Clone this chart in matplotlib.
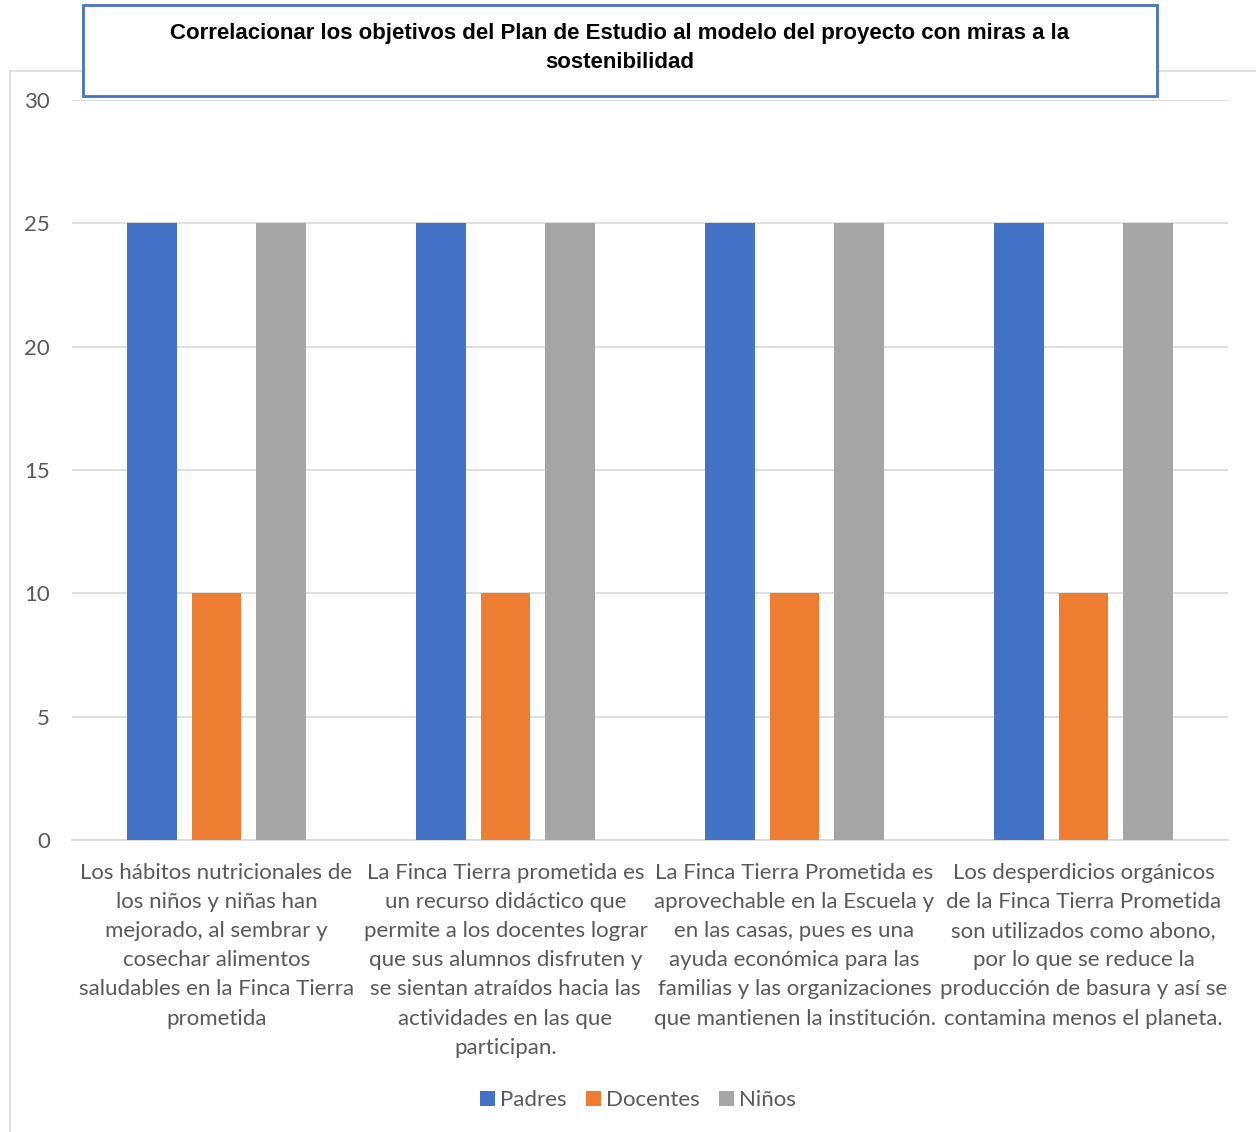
import matplotlib
matplotlib.use("Agg")
import matplotlib.pyplot as plt
from matplotlib.patches import Rectangle
import numpy as np

# data
categories = [
    "Los hábitos nutricionales de\nlos niños y niñas han\nmejorado, al sembrar y\ncosechar alimentos\nsaludables en la Finca Tierra\nprometida",
    "La Finca Tierra prometida es\nun recurso didáctico que\npermite a los docentes lograr\nque sus alumnos disfruten y\nse sientan atraídos hacia las\nactividades en las que\nparticipan.",
    "La Finca Tierra Prometida es\naprovechable en la Escuela y\nen las casas, pues es una\nayuda económica para las\nfamilias y las organizaciones\nque mantienen la institución.",
    "Los desperdicios orgánicos\nde la Finca Tierra Prometida\nson utilizados como abono,\npor lo que se reduce la\nproducción de basura y así se\ncontamina menos el planeta.",
]
padres = [25, 25, 25, 25]
docentes = [10, 10, 10, 10]
ninos = [25, 25, 25, 25]
series_names = ["Padres", "Docentes", "Niños"]
colors = ["#4472C4", "#ED7D31", "#A5A5A5"]
title = "Correlacionar los objetivos del Plan de Estudio al modelo del proyecto con miras a la\nsostenibilidad"

plt.rcParams['font.family'] = ['Lato', 'DejaVu Sans']
W, H = 1256, 1132
fig = plt.figure(figsize=(W / 100, H / 100), dpi=100)

# outer chart border
fig.patches.append(Rectangle((10 / W, 1 - 1140 / H), 1260 / W, (1140 - 71) / H,
                             transform=fig.transFigure, fill=False,
                             edgecolor="#D9D9D9", linewidth=1.2, zorder=0))

ax = fig.add_axes([72 / W, 1 - 840 / H, (1228 - 72) / W, (840 - 100) / H])
x = np.arange(len(categories))
w = 0.173
off = 0.222
for i, (vals, name) in enumerate(zip([padres, docentes, ninos], series_names)):
    ax.bar(x + (i - 1) * off, vals, w, color=colors[i], label=name, zorder=3)

ax.set_xlim(-0.5, len(categories) - 0.5)
ax.set_ylim(0, 30)
ax.set_yticks(range(0, 31, 5))
ax.yaxis.grid(True, color="#D9D9D9", linewidth=1.2, zorder=0)
ax.set_axisbelow(True)
for s in ["top", "right", "left"]:
    ax.spines[s].set_visible(False)
ax.spines["bottom"].set_color("#D9D9D9")
ax.spines["bottom"].set_linewidth(1.2)
ax.tick_params(axis="both", length=0, colors="#595959", labelsize=16)
ax.tick_params(axis="y", pad=16)
ax.set_xticks(x)
ax.set_xticklabels(categories, fontsize=16, color="#595959", linespacing=1.57,
                   va="top", ha="center")
ax.tick_params(axis="x", pad=16.5)

fig.legend(loc="center", bbox_to_anchor=(638 / W, 1 - 1100 / H), ncol=3, frameon=False,
           fontsize=16, handlelength=0.65, handleheight=0.65, handletextpad=0.22,
           columnspacing=0.9, labelcolor="#595959")

# title box
fig.patches.append(Rectangle((83 / W, 1 - 96 / H), (1157 - 83) / W, (96 - 5) / H,
                             transform=fig.transFigure, facecolor="white",
                             edgecolor="#4472C4", linewidth=2, zorder=5))
fig.text(620 / W, 1 - 48 / H, title, ha="center", va="center", fontsize=16,
         fontweight="bold", family=["Liberation Sans Narrow", "Liberation Sans", "DejaVu Sans"],
         linespacing=1.45, zorder=6)

fig.savefig("out.png", dpi=100)
